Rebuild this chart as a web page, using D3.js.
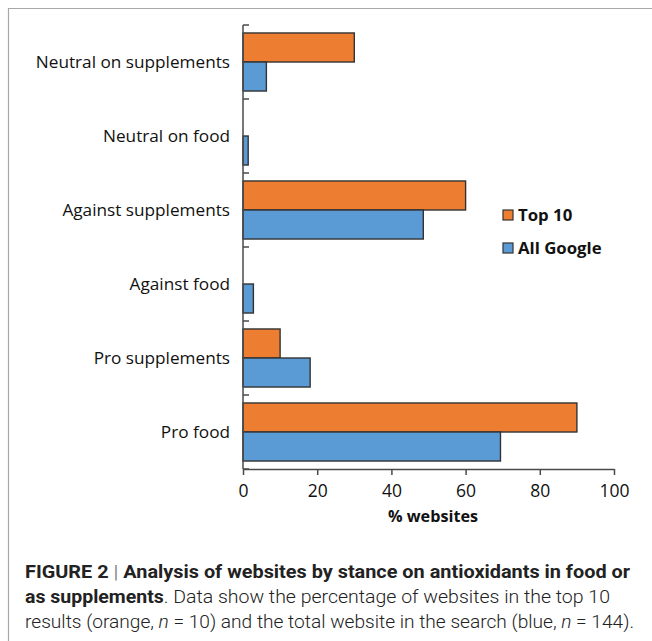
<!DOCTYPE html>
<html>
<head>
<meta charset="utf-8">
<script src="https://cdn.jsdelivr.net/npm/d3@7"></script>
<style>
html,body{margin:0;padding:0;background:#fff;}
svg{display:block;}
</style>
</head>
<body>
<svg id="chart" width="652" height="641"></svg>
<script>
const categories = ["Neutral on supplements","Neutral on food","Against supplements","Against food","Pro supplements","Pro food"];
const seriesNames = ["Top 10","All Google"];
const top10 = [30, 0, 60, 0, 10, 90];
const allGoogle = [6.3, 1.4, 48.6, 2.8, 18.1, 69.4];
const xTicks = [0,20,40,60,80,100];
const colors = ["#ED7D31","#5B9BD5"];

const svg = d3.select("#chart");

// frame
svg.append("path").attr("d","M8.5,641 L8.5,8.5 L652,8.5").attr("fill","none").attr("stroke","#a8a8a8").attr("stroke-width",1.2);

const x = d3.scaleLinear().domain([0,100]).range([243,614]);
const y = d3.scaleBand().domain(categories).range([25,469]).paddingInner(0).paddingOuter(0);
const yi = d3.scaleBand().domain(seriesNames).range([0,y.bandwidth()]).paddingInner(0).paddingOuter(0.275);

const data = categories.map((c,i)=>({cat:c, values:[{s:seriesNames[0],v:top10[i]},{s:seriesNames[1],v:allGoogle[i]}]}));

const g = svg.append("g");
const groups = g.selectAll("g.cat").data(data).join("g").attr("transform",d=>`translate(0,${y(d.cat)})`);
groups.selectAll("rect").data(d=>d.values.filter(v=>v.v>0)).join("rect")
  .attr("x",x(0))
  .attr("y",d=>yi(d.s))
  .attr("width",d=>x(d.v)-x(0))
  .attr("height",yi.bandwidth())
  .attr("fill",(d)=>colors[seriesNames.indexOf(d.s)])
  .attr("stroke","#333")
  .attr("stroke-width",1.4);

// y axis
const axisColor = "#4a4a4a";
svg.append("line").attr("x1",x(0)).attr("x2",x(0)).attr("y1",y.range()[0]).attr("y2",y.range()[1]).attr("stroke",axisColor).attr("stroke-width",1.5);
const bounds = categories.map(c=>y(c)).concat([y.range()[1]]);
svg.selectAll("line.ytick").data(bounds).join("line")
  .attr("x1",x(0)).attr("x2",x(0)+6).attr("y1",d=>d).attr("y2",d=>d)
  .attr("stroke",axisColor).attr("stroke-width",1.5);
svg.selectAll("text.ylab").data(categories).join("text")
  .attr("x",230).attr("y",d=>y(d)+y.bandwidth()/2)
  .attr("dy","0.35em").attr("text-anchor","end")
  .attr("font-family","Open Sans, sans-serif").attr("font-size",17.2).attr("fill","#111")
  .text(d=>d);

// x axis
const xAxis = d3.axisBottom(x).tickValues(xTicks).tickSize(6).tickSizeOuter(0).tickPadding(10);
const xg = svg.append("g").attr("transform",`translate(0,${y.range()[1]})`).call(xAxis);
xg.select(".domain").attr("stroke",axisColor).attr("stroke-width",1.5);
xg.selectAll(".tick line").attr("stroke",axisColor).attr("stroke-width",1.5);
xg.selectAll(".tick text").attr("font-family","Open Sans, sans-serif").attr("font-size",17.5).attr("fill","#111");
svg.append("text").attr("x",433).attr("y",522).attr("text-anchor","middle")
  .attr("font-family","Open Sans, sans-serif").attr("font-weight","bold").attr("font-size",16.2).attr("fill","#111")
  .text("% websites");

// legend
const leg = svg.append("g");
seriesNames.forEach((s,i)=>{
  const ly = 215 + i*33;
  leg.append("rect").attr("x",503).attr("y",ly-5).attr("width",10).attr("height",10)
    .attr("fill",colors[i]).attr("stroke","#333").attr("stroke-width",1.2);
  leg.append("text").attr("x",518).attr("y",ly).attr("dy","0.35em")
    .attr("font-family","Open Sans, sans-serif").attr("font-weight","bold").attr("font-size",16.8).attr("fill","#111")
    .text(s);
});

// caption
const cap = svg.append("g").attr("font-family","Roboto, Liberation Sans, sans-serif").attr("font-size",19).attr("fill","#222");
const l1 = cap.append("text").attr("x",25).attr("y",578).attr("font-weight","bold")
  .attr("textLength",605).attr("lengthAdjust","spacingAndGlyphs");
l1.append("tspan").text("FIGURE 2");
l1.append("tspan").attr("font-weight","normal").attr("fill","#888").text(" | ");
l1.append("tspan").text("Analysis of websites by stance on antioxidants in food or");
const l2 = cap.append("text").attr("x",25).attr("y",603)
  .attr("textLength",585).attr("lengthAdjust","spacingAndGlyphs");
l2.append("tspan").attr("font-weight","bold").text("as supplements");
l2.append("tspan").attr("font-weight","300").text(". Data show the percentage of websites in the top 10");
const l3 = cap.append("text").attr("x",25).attr("y",628).attr("font-weight","300")
  .attr("textLength",609).attr("lengthAdjust","spacingAndGlyphs");
l3.append("tspan").text("results (orange, ");
l3.append("tspan").attr("font-style","italic").text("n");
l3.append("tspan").text(" = 10) and the total website in the search (blue, ");
l3.append("tspan").attr("font-style","italic").text("n");
l3.append("tspan").text(" = 144).");
</script>
</body>
</html>
